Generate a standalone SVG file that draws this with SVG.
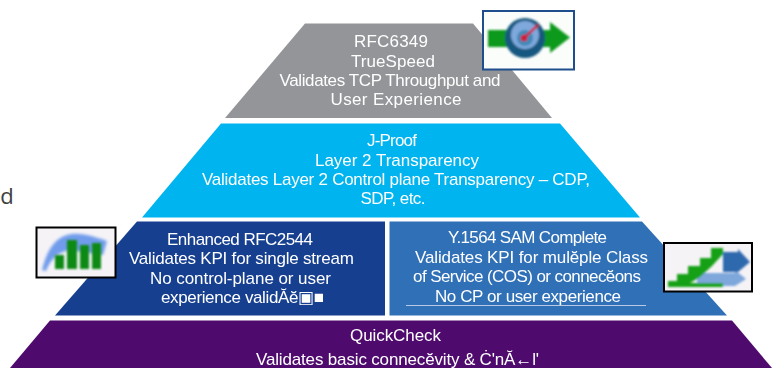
<svg xmlns="http://www.w3.org/2000/svg" width="780" height="368" viewBox="0 0 780 368">
<style>
text{font-family:"Liberation Sans",Arial,sans-serif;font-size:17px;fill:#fff;text-anchor:middle}
.frame{fill:#f6f3f7;stroke:#000;stroke-width:2}
</style>
<defs>
<filter id="b" x="-20%" y="-20%" width="140%" height="140%"><feGaussianBlur stdDeviation="1.500"/></filter>
<filter id="m" x="-10%" y="-10%" width="120%" height="120%"><feGaussianBlur stdDeviation="0.800"/></filter>
<filter id="s" x="-5%" y="-5%" width="110%" height="110%"><feGaussianBlur stdDeviation="0.300"/></filter>
</defs>
<rect width="780" height="368" fill="#fff"/>
<g id="stray"><text x="7" y="204" style="font-family:'Open Sans',sans-serif;font-size:22px;fill:#404040">d</text></g>
<g id="connectors"/>
<g id="rfc6349">
<polygon points="305,23.500 473,23.500 552,118 225,118" fill="#939598"/>
<g filter="url(#s)">
<text x="391" y="47" textLength="74" lengthAdjust="spacing">RFC6349</text>
<text x="393" y="67" textLength="84" lengthAdjust="spacing">TrueSpeed</text>
<text x="390" y="86" textLength="221" lengthAdjust="spacing">Validates TCP Throughput and</text>
<text x="396" y="105" textLength="131" lengthAdjust="spacing">User Experience</text>
</g>
</g>
<g id="j-proof">
<polygon points="221,123.500 560,123.500 640,217.500 142,217.500" fill="#00b4ef"/>
<g filter="url(#s)">
<text x="392" y="146" textLength="50" lengthAdjust="spacing">J-Proof</text>
<text x="397" y="166" textLength="164" lengthAdjust="spacing">Layer 2 Transparency</text>
<text x="396" y="185" textLength="388" lengthAdjust="spacing">Validates Layer 2 Control plane Transparency – CDP,</text>
<text x="393" y="204" textLength="65" lengthAdjust="spacing">SDP, etc.</text>
</g>
</g>
<g id="rfc2544">
<polygon points="137,221.500 385,221.500 385,315.500 55,315.500" fill="#163f8f"/>
<g filter="url(#s)">
<text x="240" y="245" textLength="146" lengthAdjust="spacing">Enhanced RFC2544</text>
<text x="241.500" y="264" textLength="225" lengthAdjust="spacing">Validates KPI for single stream</text>
<text x="240.500" y="284" textLength="181" lengthAdjust="spacing">No control-plane or user</text>
<text x="242.500" y="303" textLength="163" lengthAdjust="spacing">experience validĂĕ▣■</text>
</g>
</g>
<g id="y1564">
<polygon points="389.500,221.500 642,221.500 727,315.500 389.500,315.500" fill="#3070b7"/>
<g filter="url(#s)">
<text x="527.500" y="243" textLength="159" lengthAdjust="spacing">Y.1564 SAM Complete</text>
<text x="531.500" y="263" textLength="233" lengthAdjust="spacing">Validates KPI for mulĕple Class</text>
<text x="527" y="282" textLength="228" lengthAdjust="spacing">of Service (COS) or connecĕons</text>
<text x="528" y="302" textLength="186" lengthAdjust="spacing">No CP or user experience</text>
</g>
<line x1="406" y1="305.500" x2="646" y2="305.500" stroke="#b9c9e6" stroke-width="1"/>
</g>
<g id="quickcheck">
<polygon points="50,320.500 732,320.500 772,368 10,368" fill="#4f0a6e"/>
<g filter="url(#s)">
<text x="395.500" y="341" textLength="91" lengthAdjust="spacing">QuickCheck</text>
<text x="397.500" y="365" textLength="283" lengthAdjust="spacing">Validates basic connecĕvity &amp; Ċ'nĂ←l'</text>
</g>
</g>
<g id="icon-gauge">
<rect x="483" y="11" width="91" height="58.500" fill="#fbfdfb" stroke="#1f4e8c" stroke-width="2"/>
<g filter="url(#m)">
<rect x="488" y="30" width="62" height="17" fill="#0a9a1e"/>
<polygon points="550,22 570,37.500 550,53" fill="#0a9a1e"/>
<circle cx="525" cy="38" r="20" fill="#14597f"/>
<circle cx="525" cy="35" r="14" fill="#7fa8dc"/>
<circle cx="525" cy="38" r="8" fill="#3f8ab8"/>
<line x1="524" y1="38" x2="538" y2="25" stroke="#d01f3c" stroke-width="2.500"/>
<circle cx="524" cy="38" r="3.500" fill="#d01f3c"/>
</g>
</g>
<g id="icon-bars">
<rect x="36.500" y="227.500" width="79" height="50" class="frame"/>
<g filter="url(#b)">
<path d="M42,270 C47,250 55,236 72,234 C85,233 97,238 107,241 L103,255 L70,250 C58,252 50,260 46,271 Z" fill="#6f9ceb"/>
</g>
<g filter="url(#m)" fill="#088a12">
<rect x="55" y="255" width="9" height="14"/>
<rect x="67" y="240" width="10" height="29"/>
<rect x="80" y="245" width="9" height="24"/>
<rect x="92" y="243" width="9" height="26"/>
</g>
</g>
<g id="icon-stairs">
<rect x="664" y="243" width="88" height="48.500" class="frame"/>
<g filter="url(#m)">
<polygon points="697,273 735,273 735,270 746,279 735,286 697,286" fill="#7ea7dc"/>
<polygon points="723,252 738,252 738,249 750,262 738,272 723,272" fill="#2f69ae"/>
<polygon points="668,287 668,281 677,281 677,274 688,274 688,266 700,266 700,258 711,258 711,248 723,248 723,254 712,266 700,277 690,283 723,283 723,287" fill="#14a014"/>
</g>
</g>
</svg>
